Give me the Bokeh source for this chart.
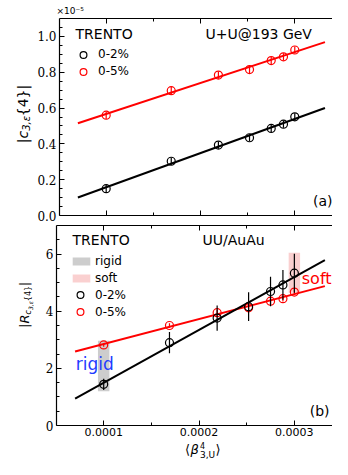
import numpy as np
from bokeh.plotting import figure
from bokeh.layouts import column, row
from bokeh.models import (Range1d, LinearAxis, FixedTicker, Label, Legend, LegendItem,
                          NumeralTickFormatter, CustomJSTickFormatter)
from bokeh.embed import file_html
from bokeh.resources import INLINE

# ---------------- data ----------------
beta3 = [0.0001, 0.000169, 0.000219, 0.000252, 0.000275, 0.000288, 0.0003]
# panel (a): |c_{3,eps}{4}| in units of 1e-5
c3_cent02 = [0.150, 0.303, 0.393, 0.434, 0.486, 0.510, 0.551]
c3_cent05 = [0.560, 0.697, 0.784, 0.815, 0.865, 0.886, 0.924]
c3_err02 = [0.02, 0.02, 0.02, 0.02, 0.02, 0.02, 0.02]
c3_err05 = [0.02, 0.02, 0.02, 0.02, 0.02, 0.02, 0.02]
# panel (b): UU/AuAu ratio
R_cent02 = [1.44, 2.90, 3.76, 4.16, 4.69, 4.92, 5.33]
R_err02 = [0.20, 0.37, 0.44, 0.50, 0.52, 0.52, 0.68]
R_cent05 = [2.82, 3.50, 3.95, 4.12, 4.35, 4.44, 4.67]
R_err05 = [0.06, 0.08, 0.10, 0.12, 0.12, 0.10, 0.10]
fit_beta = [0.00007, 0.000332]
band_names = ["rigid", "soft"]
band_beta = [0.0001, 0.0003]
band_lo = [1.20, 4.65]
band_hi = [2.97, 6.05]
x_ticks = [0.0001, 0.0002, 0.0003]
x_minor = [0.00015, 0.00025]
ya_ticks = [0.0, 0.2, 0.4, 0.6, 0.8, 1.0]
ya_minor = [0.05, 0.1, 0.15, 0.25, 0.3, 0.35, 0.45, 0.5, 0.55, 0.65, 0.7, 0.75, 0.85, 0.9, 0.95, 1.05]
yb_ticks = [0, 2, 4, 6]
yb_minor = [0.5, 1, 1.5, 2.5, 3, 3.5, 4.5, 5, 5.5, 6.5]

RED = "#ff0000"
BLACK = "#000000"
SANS = "DejaVu Sans"
SERIF = "DejaVu Serif"
BAND_WIDTH = 0.000012
STRIP_W = 34
MAIN_W = 298

xr = Range1d(0.0000505, 0.00034)


def fit_line(x, y):
    k, b = np.polyfit(np.array(x), np.array(y), 1)
    fx = np.array(fit_beta)
    return fx, k * fx + b


def style_axis(ax, font=SANS, size="11px"):
    ax.axis_line_width = 1.2
    ax.axis_line_color = "black"
    ax.major_tick_in = 5
    ax.major_tick_out = 0
    ax.minor_tick_in = 3
    ax.minor_tick_out = 0
    ax.major_tick_line_width = 1
    ax.minor_tick_line_width = 1
    ax.major_label_text_font = font
    ax.major_label_text_font_size = size
    ax.major_label_text_color = "black"


def blank_axis(ax):
    ax.formatter = CustomJSTickFormatter(code="return ''")
    ax.major_label_text_font_size = "0px"
    ax.major_label_standoff = 0


def lab(p, x, y, text, size, color="black", font=SANS, style="normal",
        align="left", baseline="middle", angle=0.0):
    p.add_layout(Label(x=x, y=y, x_units="screen", y_units="screen", text=text,
                       text_font=font, text_font_size=f"{size}px", text_color=color,
                       text_font_style=style, text_align=align, text_baseline=baseline,
                       angle=angle))


def strip(w, h):
    s = figure(width=w, height=h, x_range=Range1d(0, 1), y_range=Range1d(0, 1),
               x_axis_type=None, y_axis_type=None, toolbar_location=None,
               output_backend="svg", min_border=0, outline_line_color=None,
               background_fill_color="white", border_fill_color="white")
    return s


def make_fig(height, yr, top, bottom):
    p = figure(width=MAIN_W, height=height, x_range=xr, y_range=yr,
               output_backend="svg", toolbar_location=None,
               min_border_left=22, min_border_right=0, min_border_top=top,
               min_border_bottom=bottom, outline_line_color=None,
               background_fill_color="white", border_fill_color="white")
    p.xgrid.visible = False
    p.ygrid.visible = False
    return p


def add_points(p, x, y, err, color):
    lo = [a - e for a, e in zip(y, err)]
    hi = [a + e for a, e in zip(y, err)]
    p.segment(x0=x, y0=lo, x1=x, y1=hi, line_color=color, line_width=1.2)
    return p.scatter(x=x, y=y, marker="circle", size=8, fill_color=None,
                     line_color=color, line_width=1.2)


def legend(items, loc, gw, gh, lh, sp, standoff):
    return Legend(items=items, location=loc, orientation="vertical",
                  glyph_width=gw, glyph_height=gh, label_height=lh, spacing=sp,
                  label_standoff=standoff, padding=0, margin=0, border_line_color=None,
                  background_fill_alpha=0, label_text_font=SANS,
                  label_text_font_size="12px", label_text_color="black")


# ---------------- top strip (multiplier) ----------------
top_strip = strip(STRIP_W + MAIN_W, 18)
lab(top_strip, 56, 8, "×10⁻⁵", 9)

# ---------------- panel (a) ----------------
pa = make_fig(204, Range1d(0, 1.1), 0, 7)
fx, fy = fit_line(beta3, c3_cent05)
pa.line(fx, fy, line_color=RED, line_width=2)
fx, fy = fit_line(beta3, c3_cent02)
pa.line(fx, fy, line_color=BLACK, line_width=2)
ra05 = add_points(pa, beta3, c3_cent05, c3_err05, RED)
ra02 = add_points(pa, beta3, c3_cent02, c3_err02, BLACK)

pa.xaxis.ticker = FixedTicker(ticks=x_ticks, minor_ticks=x_minor)
style_axis(pa.xaxis[0])
blank_axis(pa.xaxis[0])
pa.yaxis.ticker = FixedTicker(ticks=ya_ticks, minor_ticks=ya_minor)
pa.yaxis.formatter = NumeralTickFormatter(format="0.0")
style_axis(pa.yaxis[0], SERIF, "12px")
pa.yaxis.major_label_standoff = 3
top_a = LinearAxis(ticker=FixedTicker(ticks=x_ticks, minor_ticks=x_minor))
style_axis(top_a)
blank_axis(top_a)
pa.add_layout(top_a, "above")

pa.add_layout(legend([LegendItem(label="0-2%", renderers=[ra02]),
                      LegendItem(label="0-5%", renderers=[ra05])],
                     (14, 135.4), 20, 17, 17, 0, 5))

lab(pa, 16, 181.4, "TRENTO", 14)
lab(pa, 146, 181.4, "U+U@193 GeV", 14)
lab(pa, 273, 14.5, "(a)", 14, align="right")

ya_strip = strip(STRIP_W, 204)
ax_x = 22
lab(ya_strip, ax_x, 72.3, "|", 14, angle=np.pi / 2)
lab(ya_strip, ax_x, 77.0, "c", 14, style="italic", angle=np.pi / 2)
lab(ya_strip, ax_x + 4, 84.7, "3,ε", 10, style="italic", angle=np.pi / 2)
lab(ya_strip, ax_x, 99.3, "{4}|", 14, angle=np.pi / 2)

# ---------------- panel (b) ----------------
pb = make_fig(219, Range1d(0, 7), 3, 16)
bands = pb.vbar(x=band_beta, width=BAND_WIDTH, bottom=band_lo, top=band_hi,
                fill_color=["#c4c4c4", "#f9c8c8"], fill_alpha=0.85, line_color=None)
fx, fy = fit_line(beta3, R_cent05)
pb.line(fx, fy, line_color=RED, line_width=2)
fx, fy = fit_line(beta3, R_cent02)
pb.line(fx, fy, line_color=BLACK, line_width=2)
rb05 = add_points(pb, beta3, R_cent05, R_err05, RED)
rb02 = add_points(pb, beta3, R_cent02, R_err02, BLACK)

pb.xaxis.ticker = FixedTicker(ticks=x_ticks, minor_ticks=x_minor)
pb.xaxis.formatter = NumeralTickFormatter(format="0.0000")
style_axis(pb.xaxis[0], SANS, "11px")
pb.xaxis.major_label_standoff = 2
pb.yaxis.ticker = FixedTicker(ticks=yb_ticks, minor_ticks=yb_minor)
style_axis(pb.yaxis[0], SERIF, "12px")
pb.yaxis.major_label_standoff = 3
top_b = LinearAxis(ticker=FixedTicker(ticks=x_ticks, minor_ticks=x_minor))
style_axis(top_b)
blank_axis(top_b)
pb.add_layout(top_b, "above")

pb.add_layout(legend([LegendItem(label=band_names[0], renderers=[bands], index=0),
                      LegendItem(label=band_names[1], renderers=[bands], index=1)],
                     (14, 139.9), 22, 10, 14, 3, 3))
pb.add_layout(legend([LegendItem(label="0-2%", renderers=[rb02]),
                      LegendItem(label="0-5%", renderers=[rb05])],
                     (14, 104.6), 20, 17, 17, 0, 5))

lab(pb, 16, 185.5, "TRENTO", 14)
lab(pb, 146, 185.5, "UU/AuAu", 14)
lab(pb, 273, 14.8, "(b)", 14, align="right")
lab(pb, 19.3, 61.4, "rigid", 17, color="#1f3cff")
lab(pb, 275, 146.8, "soft", 16, color=RED, align="right")

yb_strip = strip(STRIP_W, 219)
bx = 24
lab(yb_strip, bx, 97.5, "|", 13, angle=np.pi / 2)
lab(yb_strip, bx, 101.9, "R", 13, style="italic", angle=np.pi / 2)
lab(yb_strip, bx + 4, 110.9, "c", 8, style="italic", angle=np.pi / 2)
lab(yb_strip, bx + 6, 115.5, "3,ε", 6, style="italic", angle=np.pi / 2)
lab(yb_strip, bx + 4, 124.3, "{4}", 8, angle=np.pi / 2)
lab(yb_strip, bx, 139.3, "|", 13, angle=np.pi / 2)

# ---------------- x axis title strip ----------------
xl_strip = strip(STRIP_W + MAIN_W, 18)
lab(xl_strip, 184.5, 10, "⟨", 13)
lab(xl_strip, 190, 10, "β", 13, style="italic")
lab(xl_strip, 199.5, 14.5, "4", 8)
lab(xl_strip, 199.5, 5, "3,U", 9)
lab(xl_strip, 215, 10, "⟩", 13)

layout = column(top_strip, row(ya_strip, pa, spacing=0), row(yb_strip, pb, spacing=0),
                 xl_strip, spacing=0)
open("out.html", "w").write(file_html(layout, INLINE))
